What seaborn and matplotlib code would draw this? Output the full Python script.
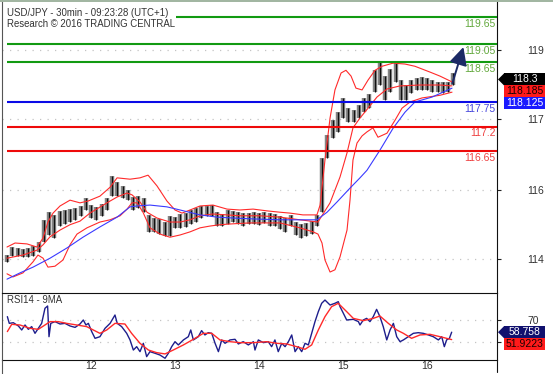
import numpy as np
import pandas as pd
import matplotlib
matplotlib.use("Agg")
import matplotlib.pyplot as plt
import seaborn as sns
from matplotlib.patches import Rectangle, Polygon
from matplotlib.lines import Line2D
from matplotlib.transforms import ScaledTranslation, blended_transform_factory

# ---------------- data ----------------
# 30-min bars, sampled every 3rd bar: high / low
price_hi = [114.32, 114.50, 114.48, 114.45, 114.48, 114.52, 114.61, 115.11, 115.28, 115.22,
            115.30, 115.33, 115.35, 115.37, 115.42, 115.60, 115.44, 115.40, 115.46, 115.60,
            116.09, 115.96, 115.87, 115.78, 115.62, 115.64, 115.60, 115.22, 115.15, 115.13,
            115.06, 115.20, 115.17, 115.24, 115.26, 115.33, 115.37, 115.42, 115.42, 115.44,
            115.28, 115.24, 115.33, 115.30, 115.28, 115.26, 115.26, 115.28, 115.26, 115.28,
            115.26, 115.24, 115.20, 115.15, 115.22, 115.06, 115.02, 115.04, 115.08, 115.22,
            116.49, 117.01, 117.34, 117.52, 117.84, 117.61, 117.57, 117.68, 117.84, 117.92,
            118.46, 118.64, 118.33, 118.50, 118.64, 118.24, 118.13, 118.24, 118.28, 118.30,
            118.28, 118.24, 118.19, 118.19, 118.19, 118.39]
price_lo = [114.16, 114.30, 114.30, 114.28, 114.28, 114.30, 114.39, 114.61, 114.77, 114.70,
            114.97, 115.02, 115.06, 115.11, 115.20, 115.33, 115.15, 115.11, 115.20, 115.33,
            115.64, 115.64, 115.60, 115.55, 115.33, 115.37, 115.28, 114.84, 114.84, 114.79,
            114.75, 114.75, 114.93, 114.93, 114.95, 115.02, 115.06, 115.15, 115.20, 115.20,
            114.97, 114.97, 115.02, 115.06, 115.02, 114.97, 115.02, 115.02, 115.00, 115.04,
            114.97, 114.97, 114.91, 114.84, 114.97, 114.77, 114.70, 114.75, 114.79, 114.97,
            115.28, 116.49, 116.94, 117.08, 117.39, 117.30, 117.30, 117.39, 117.52, 117.61,
            117.97, 118.13, 117.79, 117.97, 118.19, 117.79, 117.79, 117.95, 118.02, 118.02,
            118.02, 117.97, 117.97, 117.95, 117.97, 118.13]
bar_idx = list(range(0, 3 * len(price_hi), 3))

bb_up_x = [0, 4.6, 11.4, 17.1, 20.6, 23.4, 26.3, 30.3, 36, 41.7, 46.3, 53.1, 58.9, 62.9, 70.3, 76,
           80.6, 85.7, 91.4, 96, 100, 104.6, 110.3, 117.7, 125.7, 133.1, 140.6, 148.6, 156, 161.7,
           169.1, 177.1, 178.9, 181.7, 184.6, 187.4, 190.9, 193.7, 196.6, 199.4, 202.9, 206.3,
           210.3, 214.3, 220.6, 227.4, 233.1, 241.7, 247.4, 254.3]
bb_up = [114.50, 114.59, 114.57, 114.50, 114.70, 115.06, 115.26, 115.42, 115.55, 115.49, 115.53,
         115.64, 115.84, 116.05, 116.02, 116.05, 116.11, 115.87, 115.53, 115.33, 115.26, 115.33,
         115.42, 115.44, 115.35, 115.33, 115.35, 115.31, 115.28, 115.26, 115.22, 115.22, 115.44,
         116.45, 117.39, 118.02, 118.40, 118.46, 118.33, 118.06, 118.02, 118.24, 118.46, 118.55,
         118.62, 118.60, 118.55, 118.42, 118.33, 118.20]

bb_mid_x = [0, 9.1, 17.1, 20.6, 24.6, 30.3, 36, 41.7, 47.4, 57.1, 62.9, 68.6, 71.4, 76, 80, 85.7,
            93.1, 98.9, 104.6, 110.3, 117.7, 125.7, 133.1, 144.6, 156, 167.4, 177.7, 184.6, 190.3,
            194.3, 197.7, 201.7, 206.3, 211.4, 217.1, 224.6, 236, 247.4, 254.3]
bb_mid = [114.25, 114.32, 114.43, 114.55, 114.73, 114.88, 115.00, 115.08, 115.26, 115.49, 115.62,
          115.71, 115.67, 115.51, 115.28, 115.15, 115.06, 115.06, 115.11, 115.20, 115.24, 115.22,
          115.20, 115.20, 115.17, 115.11, 115.06, 115.49, 116.07, 116.61, 117.17, 117.39, 117.61,
          117.86, 118.04, 118.11, 118.13, 118.13, 118.11]

bb_lo_x = [0, 3.4, 9.1, 14.9, 17.7, 20.6, 23.4, 27.4, 32, 36, 40, 45.7, 53.1, 58.9, 64.6, 68.6,
           71.4, 74.3, 77.7, 81.7, 87.4, 93.1, 98.9, 104.6, 110.3, 116, 121.7, 129.1, 138.9, 148.6,
           156, 167.4, 174.9, 177.7, 180, 181.7, 184.6, 187.4, 190.3, 194.3, 196, 197.7, 200,
           202.9, 205.7, 209.1, 212, 217.1, 221.7, 225.7, 230.3, 237.1, 247.4, 254.3]
bb_lo = [113.90, 113.83, 113.92, 114.17, 114.32, 114.25, 114.05, 114.07, 114.21, 114.55, 114.79,
         114.93, 115.06, 115.11, 115.20, 115.35, 115.49, 115.49, 115.28, 114.93, 114.79, 114.72,
         114.77, 114.84, 114.93, 114.97, 115.00, 115.02, 115.04, 115.04, 115.04, 114.93, 114.84,
         114.79, 114.59, 114.21, 113.94, 113.99, 114.28, 114.88, 115.55, 116.45, 116.83, 116.99,
         117.08, 117.17, 116.96, 117.05, 117.34, 117.61, 117.75, 117.84, 117.90, 117.97]

ma_x = [0, 7.4, 14.9, 24.6, 34.3, 43.4, 53.1, 62.9, 70.3, 74.3, 81.7, 91.4, 98.9, 110.3, 120,
        129.1, 140.6, 156, 173.1, 177.1, 182.9, 188.6, 196, 201.7, 205.7, 213.1, 220.6, 227.4,
        233.1, 242.9, 254.3]
ma = [113.78, 113.92, 114.05, 114.25, 114.48, 114.72, 114.95, 115.17, 115.40, 115.42, 115.44,
      115.40, 115.33, 115.22, 115.17, 115.15, 115.13, 115.11, 115.11, 115.11, 115.28, 115.51,
      115.82, 116.05, 116.22, 116.67, 117.16, 117.52, 117.75, 117.86, 118.06]

rsi_x = [0.2, 1.3, 3.6, 6.5, 8.4, 10.3, 12.2, 14.1, 16, 17.9, 19.8, 21.7, 23.2, 24, 25, 27.4,
         30.3, 33.1, 36, 38.9, 41.7, 43.6, 45.1, 46.5, 48.4, 50.3, 53.1, 56, 58.9, 61.7, 63,
         65.5, 68.4, 70.3, 72.2, 74.1, 76, 77.9, 79.8, 81.7, 84.6, 87.4, 90.3, 92.2, 94.1, 96,
         97.9, 100.8, 103.6, 105, 106.5, 109.3, 111.2, 113.1, 115, 117, 118.9, 120.8, 122.7,
         124.6, 127.4, 130.3, 132.2, 135, 137.9, 140.8, 141.7, 143.6, 146.5, 149.3, 151.2,
         153.1, 155, 157, 158.9, 160.8, 162.7, 164.6, 166.5, 168.4, 170.3, 172.2, 174.1, 176,
         177.9, 179.8, 181.7, 184.6, 187.4, 189.3, 190.3, 192.2, 194.1, 197.9, 200.8, 201.7,
         203.6, 205.5, 207.4, 209.3, 211.2, 213.1, 215, 217, 218.9, 220.8, 222.7, 224.6, 226.5,
         229.3, 232.2, 235, 237.9, 240.8, 243.6, 246.5, 248.4, 249.9, 251.2, 252.8, 254.1]
rsi = [73.1, 66.9, 67.5, 64.5, 60.8, 65.4, 61.4, 63.9, 57.7, 62.3, 66.9, 80.8, 82.9, 54.6, 66.9,
       68.5, 66.3, 66.9, 64.5, 63.2, 66.3, 70.0, 65.4, 66.9, 59.3, 53.1, 54.6, 62.3, 66.9, 74.6,
       66.9, 63.9, 57.7, 51.6, 42.3, 45.4, 40.8, 48.5, 36.2, 40.8, 39.3, 37.7, 34.7, 39.3, 45.4,
       50.0, 47.0, 51.6, 54.6, 60.8, 51.6, 54.6, 60.2, 56.2, 58.3, 57.7, 48.5, 40.8, 51.6, 48.5,
       51.6, 52.2, 47.9, 50.0, 47.0, 50.0, 42.3, 51.6, 49.1, 50.0, 45.4, 51.6, 40.8, 48.5, 45.4,
       50.0, 56.2, 40.8, 45.4, 40.8, 48.5, 47.0, 57.7, 68.5, 77.7, 85.4, 88.4, 83.8, 85.4, 86.9,
       82.3, 76.2, 70.0, 70.6, 68.5, 65.4, 70.0, 71.5, 68.5, 73.1, 79.8, 73.1, 63.9, 51.6, 60.8,
       66.9, 54.6, 50.0, 51.6, 54.6, 57.7, 58.3, 57.7, 56.2, 54.6, 51.6, 54.6, 45.4, 51.6, 53.1,
       58.758]

rsi_ma_x = [0.2, 2.7, 7.4, 13.1, 17.9, 21.7, 24.6, 29.3, 34.1, 39.8, 45.5, 49.3, 53.1, 57, 61.7,
            67.4, 71.2, 76, 80.8, 85.5, 90.3, 95, 100.8, 106.5, 112.2, 117, 121.7, 127.4, 133.1,
            140.8, 148.4, 154.1, 159.8, 165.5, 170.3, 174.1, 177.9, 181.7, 185.5, 189.3, 194.1,
            197.9, 203.6, 209.3, 213.1, 217.9, 222.7, 226.5, 231.2, 236, 241.7, 247.4, 254.1]
rsi_ma = [59.3, 66.0, 65.4, 62.3, 61.4, 65.4, 68.5, 68.5, 66.9, 65.4, 63.9, 60.8, 57.7, 60.8,
          66.9, 66.3, 57.7, 48.5, 42.3, 39.9, 38.7, 42.3, 47.0, 52.2, 57.7, 57.7, 51.6, 50.0,
          49.1, 49.1, 50.0, 48.5, 47.9, 45.4, 43.0, 47.0, 60.8, 73.1, 82.3, 85.4, 77.7, 71.5,
          69.4, 71.5, 73.7, 66.9, 60.8, 57.7, 53.1, 56.2, 56.8, 54.6, 51.9223]

levels = [119.65, 119.05, 118.65, 117.75, 117.2, 116.65]
level_labels = ["119.65", "119.05", "118.65", "117.75", "117.2", "116.65"]
level_colors = ["#129a12", "#129a12", "#129a12", "#0a0ae6", "#ee0a0a", "#ee0a0a"]
level_text_colors = ["#62a83c", "#62a83c", "#62a83c", "#4646dc", "#ee4040", "#ee4040"]

price_ticks = [118.91, 117.37, 115.78, 114.23]
price_tick_labels = ["119", "117", "116", "114"]
rsi_ticks = [70, 50]
rsi_tick_labels = ["70", ""]
day_ticks = [43.5, 91.5, 139.5, 187.5, 235.5]
day_labels = ["12", "13", "14", "15", "16"]

last_price = 118.3
bb_mid_last = 118.185
ma_last = 118.125
rsi_last = 58.758
rsi_ma_last = 51.9223
forecast_from = (254.5, 118.17)
forecast_to = (260.8, 118.98)

# ---------------- figure ----------------
sns.set_style("white")
plt.rcParams['font.family'] = ['Liberation Sans', 'DejaVu Sans']

W, H = 553, 374
fig = plt.figure(figsize=(W / 100, H / 100), dpi=100)
fig.patch.set_facecolor("white")

def fx(px):
    return px / W

def fy(py):
    return 1 - py / H

ax = fig.add_axes([fx(2), fy(293), fx(497) - fx(2), fy(2) - fy(293)])
axr = fig.add_axes([fx(2), fy(360), fx(497) - fx(2), fy(293) - fy(360)])

xlim = (-2.86, 280.0)
txt_col = "#333333"
grid_kw = dict(color="#c4c4c4", lw=0.9, ls=(0, (1, 5)), zorder=1)

# --- main panel ---
ax.set_xlim(*xlim)
ax.set_ylim(113.47, 119.99)
for t in price_ticks:
    ax.axhline(t, **grid_kw)

ax.vlines(bar_idx, price_lo, price_hi, color="#858585", lw=3.2, zorder=2)
ax.vlines(bar_idx, price_lo, price_hi, color="#111111", lw=0.9, zorder=2.5)

sns.lineplot(x=bb_up_x, y=bb_up, ax=ax, color="#ff2a2a", lw=0.8, sort=False, estimator=None, zorder=3)
sns.lineplot(x=bb_mid_x, y=bb_mid, ax=ax, color="#ff2a2a", lw=0.8, sort=False, estimator=None, zorder=3)
sns.lineplot(x=bb_lo_x, y=bb_lo, ax=ax, color="#ff2a2a", lw=0.8, sort=False, estimator=None, zorder=3)
sns.lineplot(x=ma_x, y=ma, ax=ax, color="#3a3aff", lw=0.8, sort=False, estimator=None, zorder=3)

blend = blended_transform_factory(ax.transAxes, ax.transData)
for lv, lab, c, tc in zip(levels, level_labels, level_colors, level_text_colors):
    ax.plot([0, xlim[1]], [lv, lv], color=c, lw=1.5, zorder=4, solid_capstyle="butt")
    ax.annotate(lab, xy=(1, lv), xycoords=blend, xytext=(-1, -5), textcoords="offset points",
                ha="right", va="center", color=tc, fontsize=7.5, zorder=5)

ax.annotate("", xy=forecast_to, xytext=forecast_from,
            arrowprops=dict(arrowstyle="-|>,head_length=0.9,head_width=0.45", color="#1c2a66",
                            lw=1.4, mutation_scale=12, shrinkA=0, shrinkB=0), zorder=6)

ax.yaxis.tick_right()
ax.set_yticks(price_ticks)
ax.set_yticklabels(price_tick_labels)
ax.tick_params(axis="y", direction="out", length=3, width=0.8, color="#222222", pad=19,
               labelsize=7.5, labelcolor=txt_col)
ax.set_xticks([])
for s in ["top", "bottom"]:
    ax.spines[s].set_visible(False)
ax.spines["left"].set_color("#555555")
ax.spines["right"].set_color("#111111")
ax.spines["left"].set_linewidth(0.8)
ax.spines["right"].set_linewidth(0.8)

# --- RSI panel ---
axr.set_xlim(*xlim)
axr.set_ylim(33.1, 94.9)
for t in rsi_ticks:
    axr.axhline(t, **grid_kw)
sns.lineplot(x=rsi_x, y=rsi, ax=axr, color="#1e1e8c", lw=1.0, sort=False, estimator=None, zorder=3)
sns.lineplot(x=rsi_ma_x, y=rsi_ma, ax=axr, color="#ff2a2a", lw=1.0, sort=False, estimator=None, zorder=3)
axr.yaxis.tick_right()
axr.set_yticks(rsi_ticks)
axr.set_yticklabels(rsi_tick_labels)
axr.tick_params(axis="y", direction="out", length=3, width=0.8, color="#222222", pad=19,
                labelsize=7.5, labelcolor=txt_col)
axr.set_xticks(day_ticks)
axr.set_xticklabels(day_labels)
axr.tick_params(axis="x", direction="out", length=3, width=0.8, color="#222222", pad=-2.5,
                labelsize=7.5, labelcolor=txt_col)
offs = ScaledTranslation(2.5 / 100, 0, fig.dpi_scale_trans)
for lab in axr.get_xticklabels():
    lab.set_horizontalalignment("left")
    lab.set_transform(lab.get_transform() + offs)
for s in ["top", "bottom", "right"]:
    axr.spines[s].set_color("#111111")
    axr.spines[s].set_linewidth(0.8)
axr.spines["left"].set_color("#555555")
axr.spines["left"].set_linewidth(0.8)

# --- frame lines ---
fig.add_artist(Line2D([0, 1], [fy(0.7), fy(0.7)], color="#90a890", lw=1.2, transform=fig.transFigure))
fig.add_artist(Line2D([fx(497), fx(497)], [fy(360), fy(372)], color="#111111", lw=0.8, transform=fig.transFigure))
fig.add_artist(Line2D([fx(2), fx(2)], [fy(360), fy(374)], color="#555555", lw=0.8, transform=fig.transFigure))

# --- texts ---
fig.text(fx(7), fy(7.5), "USD/JPY - 30min - 09:23:28 (UTC+1)\nResearch \u00a9 2016 TRADING CENTRAL",
         ha="left", va="top", fontsize=6.9, color=txt_col, linespacing=1.2,
         bbox=dict(facecolor="white", edgecolor="none", pad=1.0), zorder=10)
fig.text(fx(7), fy(300), "RSI14 - 9MA", ha="left", va="center", fontsize=6.9, color=txt_col)

# --- value tags on the right ---
def tag(ypx_disp, text, face, tcolor, pointer):
    h = 12
    x0, x1 = 504, 545
    fig.add_artist(Rectangle((x0 / W, (ypx_disp - h / 2) / H), (x1 - x0) / W, h / H,
                             transform=fig.transFigure, facecolor=face, edgecolor="none"))
    if pointer:
        fig.add_artist(Polygon([[498 / W, ypx_disp / H], [x0 / W, (ypx_disp + h / 2) / H],
                                [x0 / W, (ypx_disp - h / 2) / H]], closed=True,
                               transform=fig.transFigure, facecolor=face, edgecolor="none"))
    fig.text((x0 + x1) / 2 / W, ypx_disp / H, text, ha="center", va="center",
             color=tcolor, fontsize=7.5)

def stack(axis, vals):
    ys = []
    for v in vals:
        y = axis.transData.transform((0, v))[1]
        if ys and y > ys[-1] - 12:
            y = ys[-1] - 12
        ys.append(y)
    return ys

y1, y2, y3 = stack(ax, [last_price, bb_mid_last, ma_last])
tag(y1 - 2, f"{last_price:g}", "#000000", "white", True)
tag(y2 - 2, f"{bb_mid_last:g}", "#ff1a1a", "#1a0000", False)
tag(y3 - 2, f"{ma_last:g}", "#1a1aff", "white", False)
r1, r2 = stack(axr, [rsi_last, rsi_ma_last])
tag(r1, f"{rsi_last:g}", "#10106e", "white", True)
tag(r2, f"{rsi_ma_last:g}", "#ff1a1a", "#1a0000", False)

fig.savefig("out.png", dpi=100, facecolor="white")
